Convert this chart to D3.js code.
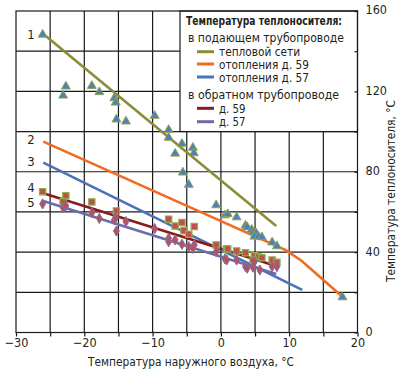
<!DOCTYPE html>
<html lang="ru">
<head>
<meta charset="UTF-8">
<title>Температура теплоносителя</title>
<script src="https://d3js.org/d3.v7.min.js"></script>
<style>
  body, html { margin: 0; padding: 0; background: #fff; }
  svg { display: block; }
  text { font-family: "Liberation Sans Narrow", "DejaVu Sans Condensed", Arial, sans-serif; fill: #231f20; }
</style>
</head>
<body>
<svg width="401" height="372"></svg>
<script>
// lines (x: outdoor temp, y: coolant temp)
const lineNet  = [[-26, 148.5], [8.1, 53]];
const lineH59  = [[-26, 95], [9.5, 41], [11.8, 35.7], [17.8, 17.8]];
const lineH57  = [[-26, 84.5], [11.9, 21.2]];
const lineR59  = [[-26, 69.3], [8.1, 33.1]];
const lineR57  = [[-26, 65.5], [8.1, 29.1]];

// measured points
const ptsNet = [[-26.1,148.5],[-22.7,122.7],[-23.1,118.2],[-18.9,123],[-17.8,119.9],[-15.6,116.9],
  [-15.4,114.7],[-15.3,106.3],[-13.9,105.3],[-9.7,108.1],[-7.65,101.1],[-7.65,97.2],[-5.7,94.2],
  [-6.7,89.3],[-4.1,92.2],[-3.96,89.5],[-5.57,79.9],[-4.7,73.8],[-0.7,63.6],[0.6,58.6],[1.0,59.2],
  [2.3,57.6],[3.6,53.5],[3.85,52.7],[4.5,51.4],[4.75,50.2],[5.15,49.7],[4.9,48],[5.5,48],[6,47.7],
  [7.5,45.1],[8.2,43.2],[17.8,17.8]];
const ptsR59 = [[-26.1,70.1],[-22.7,68.1],[-23.1,65.1],[-18.9,65],[-15.3,60.5],[-7.65,56.4],[-6.7,53],
  [-5.7,54.7],[-5.4,50.7],[-4.7,48.9],[-3.9,52.7],[-0.7,43.6],[0.8,41.6],[1.0,41.6],[2.3,40.6],
  [3.6,39.7],[4.9,38.2],[5.5,37.7],[6,37.2],[4.7,36.1],[7.5,36.1],[8.2,34.9]];
const ptsR57 = [[-26.1,64],[-23.1,62.1],[-22.7,63],[-18.9,59.6],[-17.8,56.8],[-15.6,56],[-15.4,57.3],
  [-15.3,50.5],[-13.9,55.2],[-9.7,51.7],[-7.65,46.9],[-7.65,45.2],[-6.7,46.1],[-5.7,43.9],[-4.7,42.7],
  [-3.9,43.6],[-4.1,41.9],[-0.7,40.2],[0.6,36.6],[0.85,36.1],[2.3,36.1],[3.6,32.8],[3.85,32],
  [4.7,32.5],[4.9,35.2],[5.7,31.1],[7.5,32.8],[8.2,32.8]];

const xTicks = [-30, -20, -10, 0, 10, 20];
const yTicks = [0, 40, 80, 120, 160];
const lineLabels = [["1", 148], ["2", 96], ["3", 85], ["4", 72], ["5", 64.5]];

const legendTitle = "Температура теплоносителя:";
const legendSupply = "в подающем трубопроводе";
const legendReturn = "в обратном трубопроводе";
const legendItems = [
  ["тепловой сети", "#8a8c37", 81], ["отопления д. 59", "#f26b21", 90], ["отопления д. 57", "#4a72b8", 90],
  ["д. 59", "#8b1a1a", 26.5], ["д. 57", "#6d6ba8", 26.5]
];

const svg = d3.select("svg");
const m = {left: 16, right: 43.5, top: 11, bottom: 39.5};
const W = 401, H = 372;
const x = d3.scaleLinear().domain([-30, 20]).range([m.left, W - m.right]);
const y = d3.scaleLinear().domain([0, 160]).range([H - m.bottom, m.top]);

// grid
const g = svg.append("g");
g.selectAll(".vg").data(d3.range(-25, 20, 5)).enter().append("line")
  .attr("x1", d => x(d)).attr("x2", d => x(d)).attr("y1", y(0)).attr("y2", y(160))
  .attr("stroke", "#1a1a1a").attr("stroke-width", 1.2);
g.selectAll(".hg").data(d3.range(20, 160, 20)).enter().append("line")
  .attr("x1", x(-30)).attr("x2", x(20)).attr("y1", d => y(d)).attr("y2", d => y(d))
  .attr("stroke", "#1a1a1a").attr("stroke-width", 1.2);

// x axis
const xa = svg.append("g").attr("transform", `translate(0,${y(0)})`)
  .call(d3.axisBottom(x).tickValues(d3.range(-30, 25, 5)).tickSize(4)
    .tickFormat(d => xTicks.includes(d) ? (d < 0 ? "\u2212" + Math.abs(d) : d) : ""));
xa.select(".domain").remove();
xa.selectAll("line").attr("stroke", "#1a1a1a").attr("stroke-width", 1.2);
xa.selectAll("text").attr("font-size", 12.5).attr("dy", "0.6em").attr("fill", "#231f20");

// legend box
const lx = 180, ly = y(160), lw = x(20) - 180, lh = y(100) - y(160);
svg.append("rect").attr("x", lx).attr("y", ly).attr("width", lw).attr("height", lh)
  .attr("fill", "#fff").attr("stroke", "#1a1a1a").attr("stroke-width", 1.2);

// frame
svg.append("rect").attr("x", x(-30)).attr("y", y(160)).attr("width", x(20) - x(-30))
  .attr("height", y(0) - y(160)).attr("fill", "none").attr("stroke", "#1a1a1a").attr("stroke-width", 1.2);

// right axis
const ya = svg.append("g").attr("transform", `translate(${x(20)},0)`)
  .call(d3.axisLeft(y).tickValues(d3.range(0, 180, 20)).tickSize(3).tickFormat(""));
ya.select(".domain").remove();
ya.selectAll("line").attr("stroke", "#1a1a1a").attr("stroke-width", 1.2);
svg.selectAll(".ytl").data(yTicks).enter().append("text")
  .attr("x", x(20) + 8).attr("y", d => y(d) - 1).attr("dy", "0.35em")
  .attr("font-size", 12.5).text(d => d);

// lines
const line = d3.line().x(d => x(d[0])).y(d => y(d[1]));
[[lineNet, 0], [lineH59, 1], [lineH57, 2], [lineR59, 3], [lineR57, 4]].forEach(([data, i]) => {
  svg.append("path").datum(data).attr("d", line).attr("fill", "none")
    .attr("stroke", legendItems[i][1]).attr("stroke-width", 2.6);
});

// markers
svg.selectAll(".tri").data(ptsNet).enter().append("path")
  .attr("d", d3.symbol(d3.symbolTriangle, 34))
  .attr("transform", d => `translate(${x(d[0])},${y(d[1]) + 0.5})`)
  .attr("fill", "#4f7fbf").attr("stroke", "#8fa34a").attr("stroke-width", 1);
svg.selectAll(".sq").data(ptsR59).enter().append("path")
  .attr("d", d3.symbol(d3.symbolSquare, 40))
  .attr("transform", d => `translate(${x(d[0])},${y(d[1])})`)
  .attr("fill", "#c0504d").attr("stroke", "#8db04a").attr("stroke-width", 1.2);
svg.selectAll(".dm").data(ptsR57).enter().append("path")
  .attr("d", d3.symbol(d3.symbolDiamond, 30))
  .attr("transform", d => `translate(${x(d[0])},${y(d[1])})`)
  .attr("fill", "#c0504d").attr("stroke", "#7a6fb0").attr("stroke-width", 1);

// line numbers
svg.selectAll(".num").data(lineLabels).enter().append("text")
  .attr("x", 31).attr("y", d => y(d[1]) + 4).attr("text-anchor", "middle")
  .attr("font-size", 13).attr("fill", "#333").text(d => d[0]);

// legend contents
const fit = (sel, len) => sel.attr("textLength", len).attr("lengthAdjust", "spacingAndGlyphs");
fit(svg.append("text").attr("x", 186).attr("y", 25).attr("font-size", 12.5)
  .attr("font-weight", "bold").text(legendTitle), 156);
fit(svg.append("text").attr("x", 188).attr("y", 42).attr("font-size", 13).text(legendSupply), 156);
fit(svg.append("text").attr("x", 188).attr("y", 99).attr("font-size", 13).text(legendReturn), 151);
const legendY = [51.7, 64, 77, 108.3, 121.7];
legendItems.forEach((d, i) => {
  svg.append("line").attr("x1", 197).attr("x2", 214).attr("y1", legendY[i]).attr("y2", legendY[i])
    .attr("stroke", d[1]).attr("stroke-width", 3);
  fit(svg.append("text").attr("x", 219).attr("y", legendY[i] + 4.5).attr("font-size", 13).text(d[0]), d[2]);
});

// axis titles
fit(svg.append("text").attr("x", 88).attr("y", 366)
  .attr("font-size", 13).text("Температура наружного воздуха, °C"), 206);
fit(svg.append("text").attr("transform", `translate(395,282) rotate(-90)`)
  .attr("font-size", 13).text("Температура теплоносителя, °C"), 182);
</script>
</body>
</html>
